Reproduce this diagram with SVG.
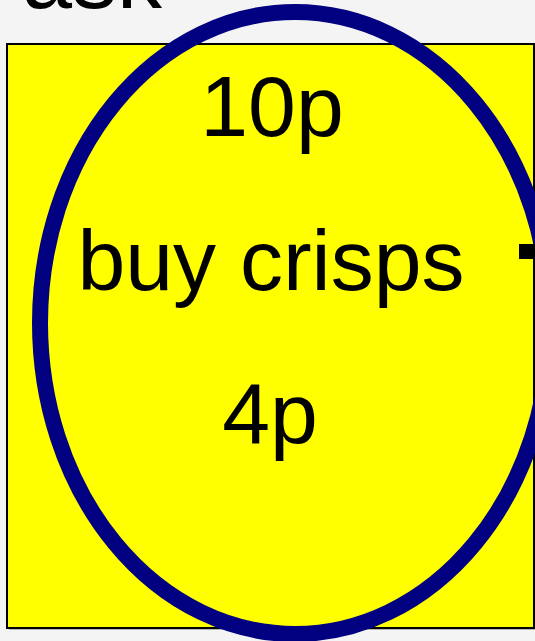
<svg xmlns="http://www.w3.org/2000/svg" width="535" height="641" viewBox="0 0 535 641">
<style>
.lbl{font-family:"Liberation Sans",Arial,sans-serif;font-size:86px;fill:#000;text-anchor:middle}
</style>
<rect x="0" y="0" width="535" height="641" fill="#f4f4f4"/>
<g id="title">
<text x="22" y="8" style="font-family:'Liberation Sans',Arial,sans-serif;font-size:90px;fill:#000">ask</text>
</g>
<g id="box">
<rect x="9" y="46" width="527" height="584" fill="#8a8a8a" opacity="0.6"/>
<rect x="7" y="44" width="527" height="584" fill="#ffff00" stroke="#000" stroke-width="2"/>
</g>
<g id="node-ellipse">
<ellipse cx="295" cy="323" rx="255" ry="311" fill="none" stroke="#000080" stroke-width="16"/>
<text class="lbl" x="272" y="136">10p</text>
<text class="lbl" x="271" y="290">buy crisps</text>
<text class="lbl" x="270" y="443">4p</text>
</g>
<g id="connectors">
<rect x="519" y="244" width="16" height="15" fill="#000"/>
</g>
</svg>
